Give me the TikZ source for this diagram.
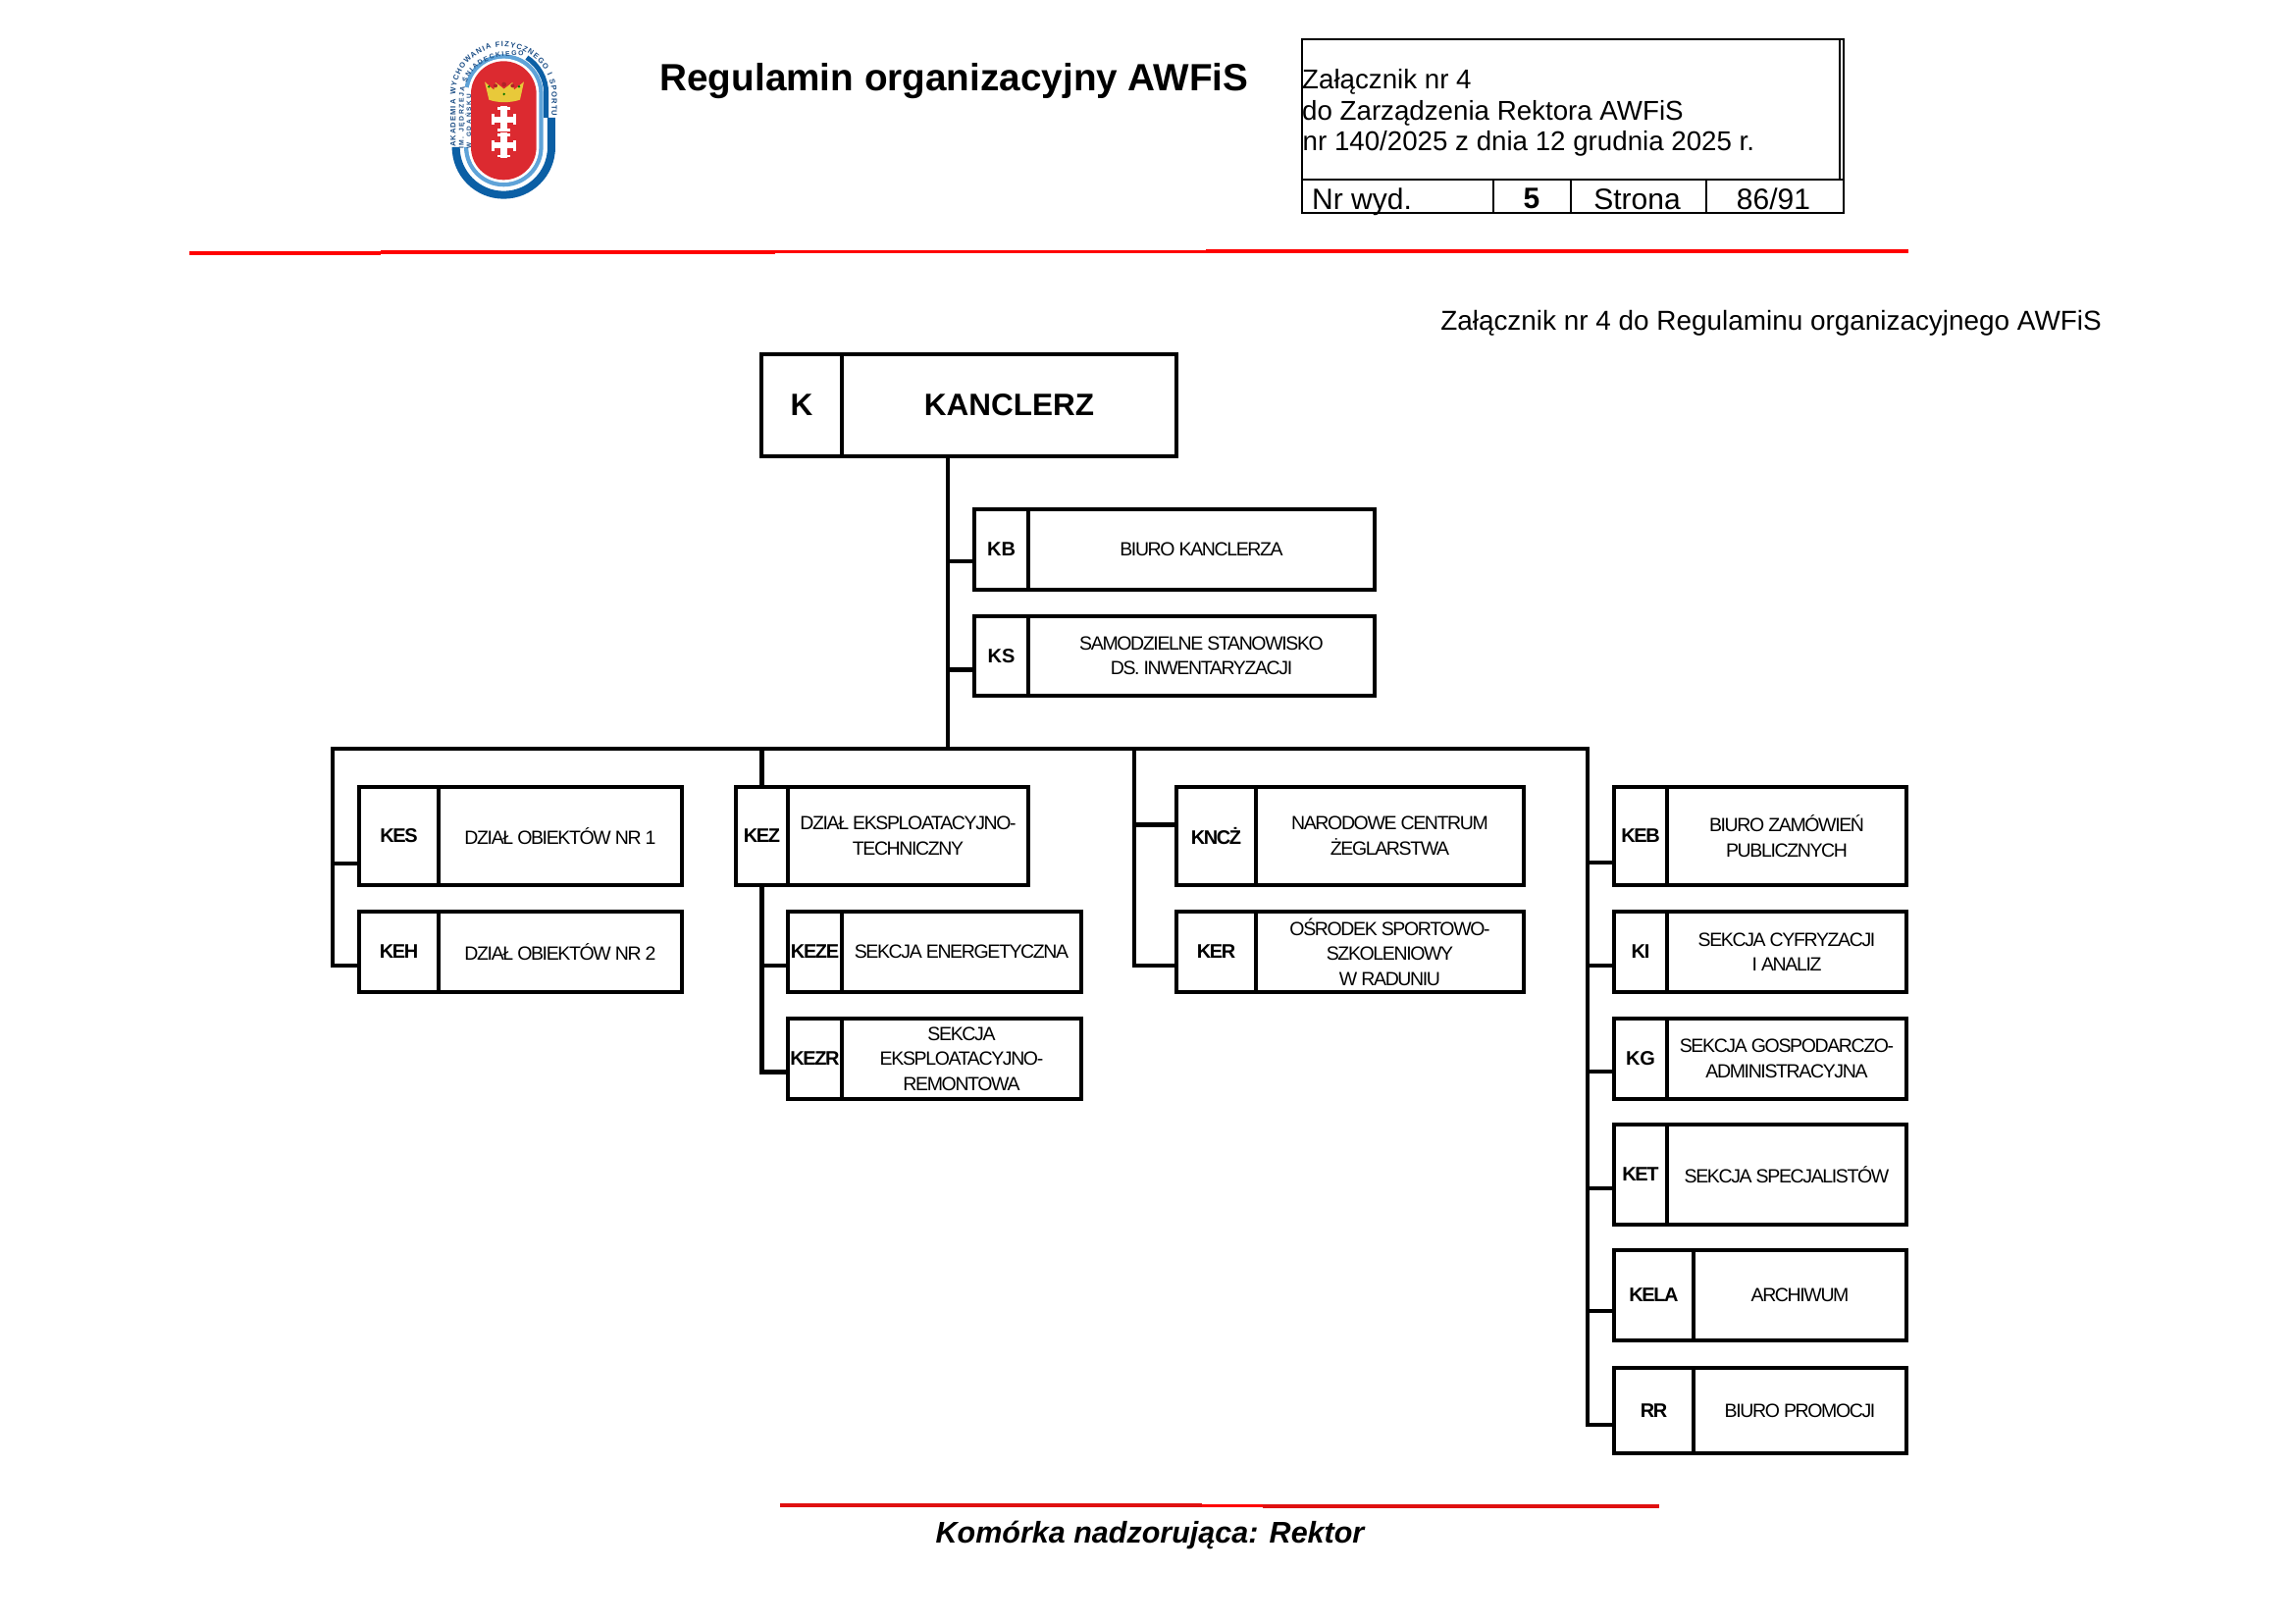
\documentclass[tikz,border=0pt]{standalone}
\usepackage{fontspec}
\setmainfont{Liberation Sans}
\newfontfamily\tightfont[LetterSpace=-7]{Liberation Sans}
\newfontfamily\plainfont{Liberation Sans}
\usetikzlibrary{decorations.text}
\definecolor{logodark}{HTML}{0B5FA5}
\definecolor{logolight}{HTML}{5FA3D8}
\definecolor{logored}{HTML}{DC2A30}
\definecolor{logogold}{HTML}{E8C93A}
\definecolor{logotext}{HTML}{1C4E86}
\tikzset{
  link/.style={line width=4.8pt,black,line join=miter},
  cellbase/.style={draw=black,line width=4.8pt,inner sep=0pt,align=center,fill=white},
  codecell/.style={cellbase,font={\tightfont\bfseries\fontsize{20}{25}\selectfont}},
  labelcell/.style={cellbase,font={\tightfont\fontsize{19.5}{25.5}\selectfont}},
  bigcell/.style={cellbase,font={\plainfont\bfseries\fontsize{31.5}{36}\selectfont}},
  rule/.style={red,line width=3.8pt},
  tabline/.style={black,line width=2.6pt},
  tabtext/.style={inner sep=0pt,font={\fontsize{27.7}{32}\selectfont}},
  logotrack/.style={line cap=butt},
}
\newcommand{\orgbox}[9][labelcell]{%
  \node[codecell,minimum width={(#4-#3)*1pt},minimum height={(#7-#6)*1pt}] (#2c) at ({(#3+#4)/2},{(#6+#7)/2}) {#8};
  \node[#1,minimum width={(#5-#4)*1pt},minimum height={(#7-#6)*1pt}] (#2) at ({(#4+#5)/2},{(#6+#7)/2}) {#9};}
\newcommand{\wide}[1]{{\plainfont\bfseries\fontsize{20}{25}\selectfont #1}}
\begin{document}
\begin{tikzpicture}[x=1pt,y=-1pt]
\useasboundingbox[fill=white] (0,0) rectangle (2339,1654);

% ---------- logo (coordinates in a 3x crop of the corner)
\begin{scope}[shift={(420,20)},x=0.3333pt,y=-0.3333pt]
  \draw[logotrack,logodark,line width=8pt] (134,400) -- (134,390) arc (180:0:146) -- (426,300);
  \draw[logotrack,logodark,line width=5pt] (410,300) -- (410,225) arc (0:-57:130);
  \draw[logotrack,logolight,line width=4.6pt] (166,400) -- (166,390) arc (180:0:114) -- (394,227) arc (0:-170:114);
  \fill[white] (172,227) arc (180:360:108) -- (388,390) arc (0:180:108) -- cycle;
  \fill[logored] (180,227) arc (180:360:100) -- (380,390) arc (0:180:100) -- cycle;
  % crown
  \fill[logogold] (222,190) -- (250,215) -- (255,192) -- (281,212) -- (307,192) -- (312,215) -- (342,190)
     -- (330,245) .. controls (300,255) and (262,255) .. (235,245) -- cycle;
  \fill[logored!80!black] (255,202) circle (6) (281,198) circle (7) (307,202) circle (6);
  \fill[green!45!black] (235,205) circle (4) (327,205) circle (4) (281,228) circle (4);
  % crosses
  \foreach \cy in {305,385}{
    \fill[white] (271,{\cy-40}) rectangle (291,{\cy+38});
    \fill[white] (250,{\cy-9}) rectangle (312,{\cy+9});
    \fill[white] (243,{\cy-17}) rectangle (253,{\cy+17});
    \fill[white] (309,{\cy-17}) rectangle (319,{\cy+17});
    \fill[white] (262,{\cy-37}) rectangle (300,{\cy-29});
    \fill[white] (262,{\cy+28}) rectangle (300,{\cy+36});
  }
  \path[decorate,decoration={text along path,text align=fit to path,
     text={|\fontsize{7.6}{8}\selectfont\bfseries\color{logotext}|AKADEMIA WYCHOWANIA FIZYCZNEGO I SPORTU}}]
     (133,390) -- (133,230) arc (180:360:147) -- (427,295);
  \path[decorate,decoration={text along path,text align=fit to path,
     text={|\fontsize{6.8}{7}\selectfont\bfseries\color{logotext}|IM. JĘDRZEJA ŚNIADECKIEGO}}]
     (158,395) -- (158,240) .. controls (158,160) and (220,101) .. (340,111);
  \path[decorate,decoration={text along path,text align=fit to path,
     text={|\fontsize{6.4}{7}\selectfont\bfseries\color{logotext}|W GDAŃSKU}}]
     (180,395) -- (180,228);
\end{scope}

% ---------- header
\node[anchor=base,inner sep=0pt,font={\bfseries\fontsize{38.7}{44}\selectfont}] (title) at (972.5,92.5) {Regulamin organizacyjny AWFiS};

\draw[tabline] (1327,40) rectangle (1879,217);
\draw[tabline] (1327,183) -- (1879,183);
\draw[tabline] (1875,40) -- (1875,183);
\draw[tabline] (1522,183) -- (1522,217);
\draw[tabline] (1601,183) -- (1601,217);
\draw[tabline] (1739,183) -- (1739,217);
\node[tabtext,anchor=base west] (t1) at (1327,90) {Załącznik nr 4};
\node[tabtext,anchor=base west] (t2) at (1327,122) {do Zarządzenia Rektora AWFiS};
\node[tabtext,anchor=base west] (t3) at (1327.5,153) {nr 140/2025 z dnia 12 grudnia 2025 r.};
\node[tabtext,anchor=base west,font={\fontsize{30}{32}\selectfont}] (t4) at (1337,213) {Nr wyd.};
\node[tabtext,anchor=base,font={\bfseries\fontsize{30}{32}\selectfont}] (t5) at (1561,212) {5};
\node[tabtext,anchor=base,font={\fontsize{30}{32}\selectfont}] (t6) at (1668.5,213) {Strona};
\node[tabtext,anchor=base,font={\fontsize{30}{32}\selectfont}] (t7) at (1807.5,213) {86/91};

\draw[rule] (193,257.7) -- (388,257.7);
\draw[rule] (388,257) -- (790,257);
\draw[rule] (790,256.5) -- (1229,256.5);
\draw[rule] (1229,256) -- (1628,256);
\draw[rule] (1628,255.7) -- (1945,255.7);

\node[anchor=base east,inner sep=0pt,font={\fontsize{27.9}{32}\selectfont}] (note) at (2142,336) {Załącznik nr 4 do Regulaminu organizacyjnego AWFiS};

% ---------- boxes
\orgbox[bigcell]{k}{776}{858}{1199}{361}{465}{{\plainfont\bfseries\fontsize{31.5}{36}\selectfont K}}{KANCLERZ}
\orgbox{kb}{993}{1048}{1401}{519}{601}{\wide{KB}}{BIURO KANCLERZA}
\orgbox{ks}{993}{1048}{1401}{628}{709}{\wide{KS}}{SAMODZIELNE STANOWISKO\\DS. INWENTARYZACJI}

\orgbox{kes}{366}{447}{695}{802}{902}{KES}{DZIAŁ OBIEKTÓW NR 1}
\orgbox{keh}{366}{447}{695}{929}{1011}{KEH}{DZIAŁ OBIEKTÓW NR 2}

\orgbox{kez}{750}{803}{1048}{802}{902}{KEZ}{DZIAŁ EKSPLOATACYJNO-\\TECHNICZNY}
\orgbox{keze}{803}{858}{1102}{929}{1011}{KEZE}{SEKCJA ENERGETYCZNA}
\orgbox{kezr}{803}{858}{1102}{1038}{1120}{KEZR}{SEKCJA\\EKSPLOATACYJNO-\\REMONTOWA}

\orgbox{kncz}{1199}{1280}{1553}{802}{902}{KNCŻ}{NARODOWE CENTRUM\\ŻEGLARSTWA}
\orgbox{ker}{1199}{1280}{1553}{929}{1011}{KER}{OŚRODEK SPORTOWO-\\SZKOLENIOWY\\W RADUNIU}

\orgbox{keb}{1645}{1699}{1943}{802}{902}{KEB}{BIURO ZAMÓWIEŃ\\PUBLICZNYCH}
\orgbox{ki}{1645}{1699}{1943}{929}{1011}{KI}{SEKCJA CYFRYZACJI\\I ANALIZ}
\orgbox{kg}{1645}{1699}{1943}{1038}{1120}{\wide{KG}}{SEKCJA GOSPODARCZO-\\ADMINISTRACYJNA}
\orgbox{ket}{1645}{1699}{1943}{1146}{1248}{KET}{SEKCJA SPECJALISTÓW}
\orgbox{kela}{1645}{1726}{1943}{1274}{1366}{KELA}{ARCHIWUM}
\orgbox{rr}{1645}{1726}{1943}{1394}{1481}{RR}{BIURO PROMOCJI}

% ---------- connectors
\coordinate (tr) at (966,763);
\coordinate (busL) at (339,763);
\coordinate (busR) at (1618,763);
\coordinate (bus3) at (1156,763);

\draw[link] (tr |- kc.south) -- (tr);
\draw[link] ([yshift=-12pt]kbc.west -| tr) -- ([yshift=-12pt]kbc.west);
\draw[link] ([yshift=-14pt]ksc.west -| tr) -- ([yshift=-14pt]ksc.west);

\draw[link] ([yshift=-14pt]kehc.west) -| (busL) -- (busR) |- ([yshift=-14.5pt]rrc.west);
\draw[link] ([yshift=-28pt]kesc.west -| busL) -- ([yshift=-28pt]kesc.west);

\draw[link] (kezc.north |- tr) -- (kezc.north);
\draw[link] (kezc.south) |- ([yshift=-13.5pt]kezrc.west);
\draw[link] ([yshift=-14pt]kezec.west -| kezc.south) -- ([yshift=-14pt]kezec.west);

\draw[link] ([yshift=-14pt]kerc.west) -| (bus3);
\draw[link] ([yshift=11.5pt]knczc.west -| bus3) -- ([yshift=11.5pt]knczc.west);

\draw[link] ([yshift=-27pt]kebc.west -| busR) -- ([yshift=-27pt]kebc.west);
\draw[link] ([yshift=-14pt]kic.west -| busR) -- ([yshift=-14pt]kic.west);
\draw[link] ([yshift=-13pt]kgc.west -| busR) -- ([yshift=-13pt]kgc.west);
\draw[link] ([yshift=-14pt]ketc.west -| busR) -- ([yshift=-14pt]ketc.west);
\draw[link] ([yshift=-16pt]kelac.west -| busR) -- ([yshift=-16pt]kelac.west);

% ---------- footer
\draw[rule,draw={rgb,255:red,224;green,16;blue,16}] (795,1534) -- (1225,1534);
\draw[rule] (1225,1534.5) -- (1287,1534.5);
\draw[rule,draw={rgb,255:red,224;green,16;blue,16}] (1287,1535) -- (1691,1535);
\node[anchor=base,inner sep=0pt,font={\bfseries\itshape\fontsize{30.5}{34}\selectfont}] (foot) at (1172,1572) {Komórka nadzorująca: Rektor};
\end{tikzpicture}
\end{document}
